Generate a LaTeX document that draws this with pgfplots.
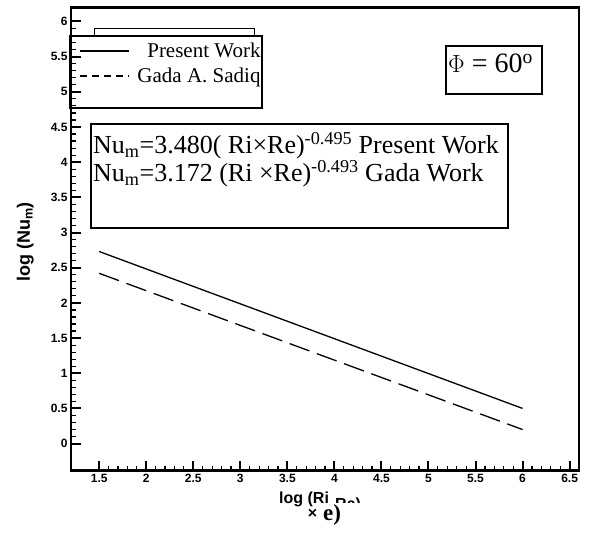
\documentclass[border=0pt]{standalone}
\usepackage{fontspec}
\setmainfont{Liberation Serif}
\setsansfont{Liberation Sans}
\usepackage{pgfplots}
\pgfplotsset{compat=1.18}
\usetikzlibrary{calc}

\begin{document}
\begin{tikzpicture}
\begin{axis}[
  width=508pt, height=463.3pt, scale only axis,
  xmin=1.2, xmax=6.6, ymin=-0.385, ymax=6.2,
  xtick={1.5,2,...,6.5}, ytick={0,0.5,...,6},
  minor x tick num=4, minor y tick num=4,
  tick pos=left, tick align=inside,
  major tick length=10pt, minor tick length=5pt,
  every major tick/.style={line width=2pt,black},
  every minor tick/.style={line width=1.2pt,black},
  axis line style={line width=2.8pt},
  tick label style={font=\sffamily\bfseries\fontsize{12}{13}\selectfont},
  /pgf/number format/assume math mode=true,
  legend image code/.code={\draw[#1] (0pt,0pt) -- (49pt,0pt); \path (55pt,0pt);},
  legend cell align=right,
  legend style={at={(axis description cs:0.0157,0.928)}, anchor=north west,
    draw=none, fill=none, inner sep=0pt, row sep=5pt,
    font=\fontsize{21}{24}\selectfont},
]
\addplot[black, line width=1.3pt] coordinates {(1.5,2.73) (6,0.50)};
\addlegendentry{Present Work}
\addplot[black, line width=1.3pt, dash pattern=on 21pt off 8pt,
  legend image code/.code={\draw[black,line width=1.3pt,dash pattern=on 7pt off 5pt] (0pt,0pt) -- (49pt,0pt); \path (55pt,0pt);}]
  coordinates {(1.5,2.42) (6,0.20)};
\addlegendentry{Gada A. Sadiq}
\end{axis}

\begin{scope}[shift={($(current axis.south west)+(-71pt,470.7pt)$)}, x=1pt, y=-1pt]
\path[use as bounding box] (0,0) rectangle (592,534);
% boxes
\draw[line width=1pt] (94,36) -- (94,29) -- (254,29) -- (254,36);
\draw[line width=2.5pt] (70,36) rectangle (262,108);
\draw[line width=2pt] (446,46) rectangle (542,94);
\node[anchor=base west, inner sep=0pt, font=\fontsize{28}{32}\selectfont] at (448,73) {$\Phi$ = 60\textsuperscript{o}};
\draw[line width=2pt] (91,124) rectangle (508,228);
\node[anchor=base west, inner sep=0pt, font=\fontsize{26}{30}\selectfont] at (93,154)
  {Nu\textsubscript{m}=3.480( Ri×Re)\textsuperscript{-0.495} Present Work};
\node[anchor=base west, inner sep=0pt, font=\fontsize{26}{30}\selectfont] at (93,182)
  {Nu\textsubscript{m}=3.172 (Ri ×Re)\textsuperscript{-0.493} Gada Work};
% axis titles
\node[anchor=base west, inner sep=0pt, font=\sffamily\bfseries\fontsize{16}{19}\selectfont] at (279,504) {log (Ri};
\begin{scope}
\clip (330,490) rectangle (372,502.5);
\node[anchor=base west, inner sep=0pt, font=\sffamily\bfseries\fontsize{16}{19}\selectfont] at (335,510) {Ra)};
\end{scope}
\node[anchor=center, inner sep=0pt, font=\sffamily\bfseries\fontsize{16}{19}\selectfont] at (312.5,514) {×};
\node[anchor=base west, inner sep=0pt, font=\bfseries\fontsize{23}{27}\selectfont] at (323,521) {e)};
\node[rotate=90, anchor=base, inner sep=0pt, font=\sffamily\bfseries\fontsize{18}{21}\selectfont] at (30,242) {log (Nu\textsubscript{m})};
\end{scope}
\end{tikzpicture}
\end{document}
